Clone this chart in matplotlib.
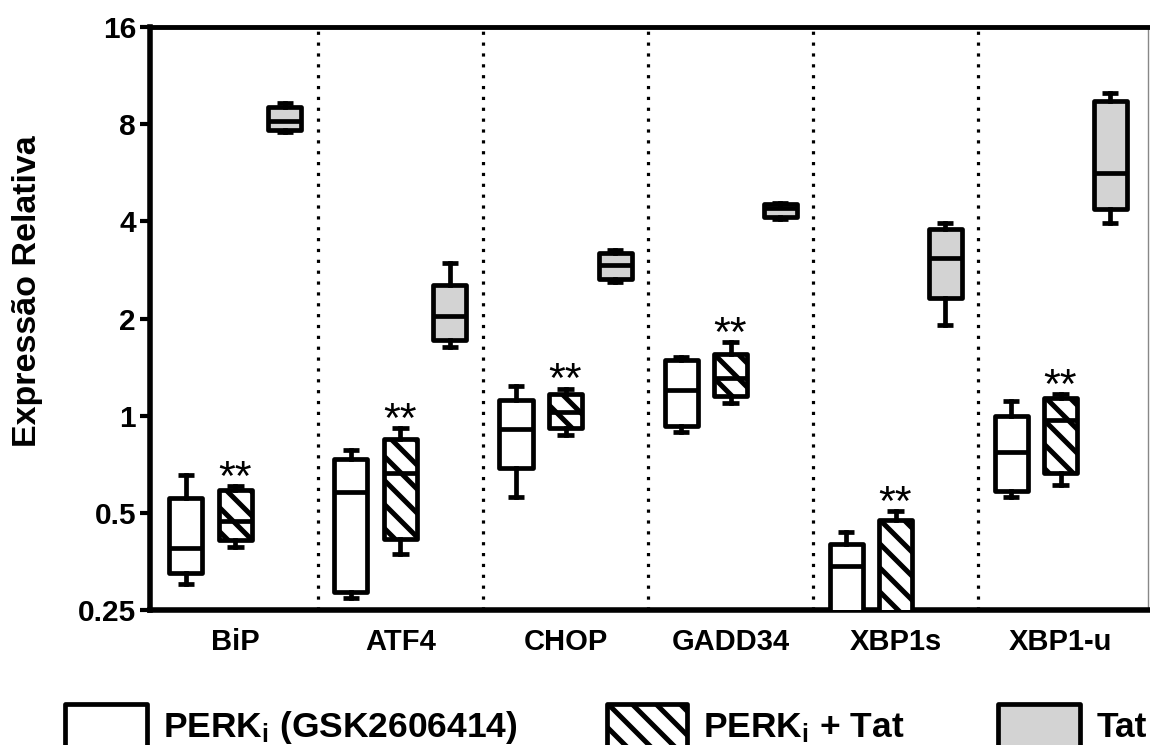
import matplotlib
matplotlib.use("Agg")
import matplotlib.pyplot as plt
from matplotlib.patches import Rectangle
from matplotlib.ticker import NullLocator, FixedLocator, FixedFormatter
import numpy as np

# Rendered at 72 dpi so that hatch spacing matches; sizes below are in pixels
DPI = 72
S = 100 / DPI  # convert "points at 100 dpi" to points at 72 dpi

plt.rcParams['font.family'] = ['Liberation Sans', 'DejaVu Sans']
plt.rcParams['hatch.linewidth'] = 5.0
plt.rcParams['mathtext.fontset'] = 'custom'
plt.rcParams['mathtext.rm'] = 'Liberation Sans:bold'
plt.rcParams['mathtext.it'] = 'Liberation Sans:bold'
plt.rcParams['mathtext.bf'] = 'Liberation Sans:bold'

# ---------------- data ----------------
genes = ['BiP', 'ATF4', 'CHOP', 'GADD34', 'XBP1s', 'XBP1-u']

# PERKi (GSK2606414)
perk_whislo = [0.300, 0.273, 0.561, 0.889, 0.18, 0.561]
perk_q1     = [0.326, 0.284, 0.686, 0.929, 0.20, 0.585]
perk_med    = [0.390, 0.581, 0.908, 1.200, 0.341, 0.770]
perk_q3     = [0.557, 0.733, 1.116, 1.490, 0.401, 1.000]
perk_whishi = [0.657, 0.785, 1.236, 1.520, 0.435, 1.107]

# PERKi + Tat
pt_whislo = [0.392, 0.374, 0.872, 1.095, 0.18, 0.610]
pt_q1     = [0.412, 0.414, 0.913, 1.147, 0.20, 0.662]
pt_med    = [0.473, 0.666, 1.028, 1.310, 0.22, 0.970]
pt_q3     = [0.589, 0.846, 1.163, 1.550, 0.476, 1.132]
pt_whishi = [0.605, 0.913, 1.210, 1.686, 0.505, 1.163]

# Tat
tat_whislo = [7.56, 1.63, 2.60, 4.06, 1.91, 3.96]
tat_q1     = [7.67, 1.72, 2.66, 4.12, 2.31, 4.36]
tat_med    = [8.21, 2.03, 2.92, 4.39, 3.09, 5.66]
tat_q3     = [9.04, 2.54, 3.20, 4.53, 3.80, 9.46]
tat_whishi = [9.29, 2.97, 3.26, 4.57, 3.96, 10.0]

significance = ['**', '**', '**', '**', '**', '**']

yticks = [0.25, 0.5, 1, 2, 4, 8, 16]
ytick_labels = ['0.25', '0.5', '1', '2', '4', '8', '16']

legend_labels = ['PERK$_{i}$ (GSK2606414)', 'PERK$_{i}$ + Tat', 'Tat']

# ---------------- figure ----------------
W, H = 1150, 745
fig = plt.figure(figsize=(W / DPI, H / DPI), dpi=DPI)
ax = fig.add_axes([150 / W, 1 - 610 / H, 998 / W, (610 - 27) / H])

GRAY = '#d3d3d3'
LW = 3.4 * S


def make_stats(wlo, q1, med, q3, whi):
    return [dict(whislo=a, q1=b, med=c, q3=d, whishi=e, fliers=[])
            for a, b, c, d, e in zip(wlo, q1, med, q3, whi)]


groups = [
    (make_stats(perk_whislo, perk_q1, perk_med, perk_q3, perk_whishi), 'white', None, -0.30),
    (make_stats(pt_whislo, pt_q1, pt_med, pt_q3, pt_whishi), 'white', '\\', 0.0),
    (make_stats(tat_whislo, tat_q1, tat_med, tat_q3, tat_whishi), GRAY, None, 0.30),
]

x = np.arange(len(genes))

# separators
for b in x[:-1] + 0.5:
    ax.axvline(b, color='black', lw=2.3 * S, linestyle=(0, (1, 2.4)), zorder=1)

for stats, fc, hatch, off in groups:
    ax.bxp(stats, positions=x + off, widths=0.2, patch_artist=True,
           showfliers=False, manage_ticks=False,
           boxprops=dict(facecolor=fc, edgecolor='black', linewidth=LW,
                         hatch=hatch, joinstyle='round'),
           medianprops=dict(color='black', linewidth=LW, solid_capstyle='butt'),
           whiskerprops=dict(color='black', linewidth=LW),
           capprops=dict(color='black', linewidth=LW, solid_capstyle='butt'),
           zorder=3)

for i, s in enumerate(significance):
    ax.annotate(s, xy=(x[i], pt_whishi[i]), xytext=(0, -3.5),
                textcoords='offset points', ha='center', va='baseline',
                fontsize=31 * S)

ax.set_yscale('log', base=2)
ax.set_ylim(0.25, 16)
ax.set_xlim(-0.518, 5.53)
ax.yaxis.set_major_locator(FixedLocator(yticks))
ax.yaxis.set_major_formatter(FixedFormatter(ytick_labels))
ax.yaxis.set_minor_locator(NullLocator())
ax.set_xticks(x)
ax.set_xticklabels(genes)

ax.tick_params(axis='y', length=7 * S, width=3 * S, pad=3 * S, labelsize=21.5 * S)
ax.tick_params(axis='x', length=0, pad=13 * S, labelsize=21 * S)
for lab in ax.get_xticklabels() + ax.get_yticklabels():
    lab.set_fontweight('bold')

ax.spines['left'].set_linewidth(4 * S)
ax.spines['bottom'].set_linewidth(4 * S)
ax.spines['top'].set_linewidth(3.5 * S)
ax.spines['right'].set_linewidth(1 * S)
ax.spines['right'].set_color('#888888')

fig.text(28 / W, 1 - 291 / H, 'Expressão Relativa', rotation=90,
         ha='center', va='center', fontsize=24.5 * S, fontweight='bold')

# legend (manual)
leg_boxes = [(65, 147, 'white', None, 163),
             (607, 687, 'white', '\\', 703),
             (998, 1080, GRAY, None, 1097)]
for (x0, x1, fc, hatch, tx), label in zip(leg_boxes, legend_labels):
    r = Rectangle((x0 / W, 1 - 765 / H), (x1 - x0) / W, (765 - 704) / H,
                  transform=fig.transFigure, facecolor=fc, edgecolor='black',
                  linewidth=LW, hatch=hatch, joinstyle='round', clip_on=False)
    fig.add_artist(r)
    fig.text(tx / W, 1 - 737 / H, label, ha='left', va='baseline',
             fontsize=25.5 * S, fontweight='bold')

fig.savefig('out.png', dpi=DPI)
